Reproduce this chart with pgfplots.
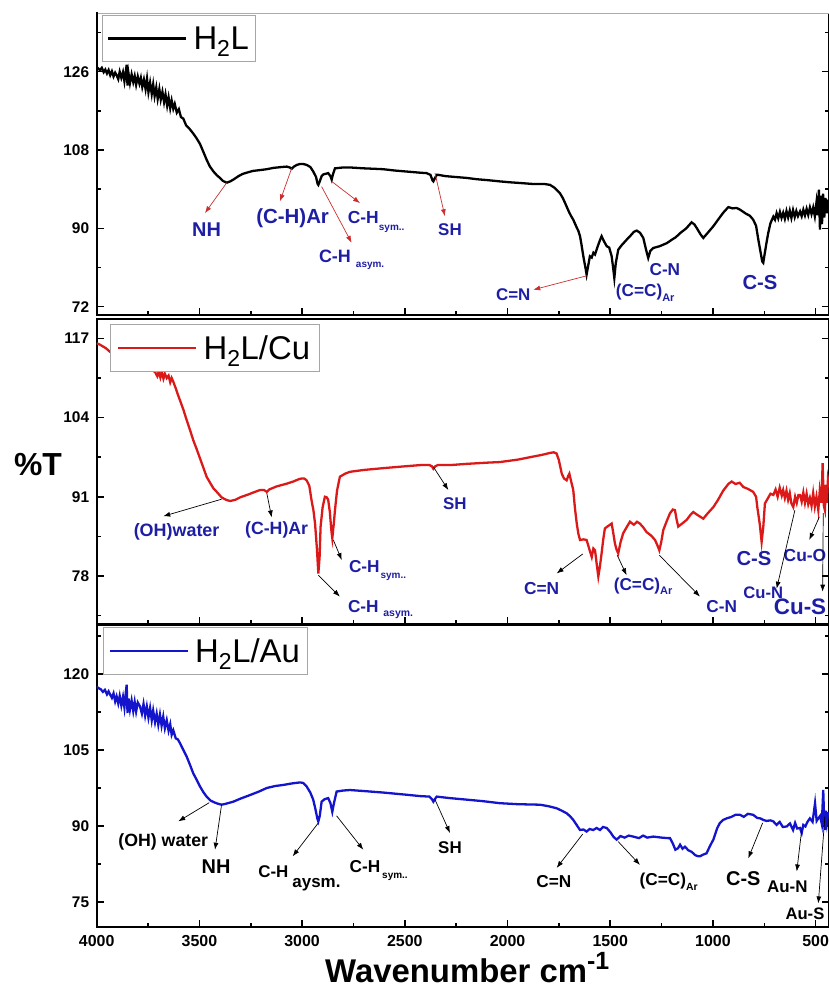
\documentclass[border=0pt]{standalone}
\usepackage{pgfplots}
\pgfplotsset{compat=1.18}
\usetikzlibrary{arrows.meta}
\usepackage{fontspec}
\setmainfont{Liberation Sans}
\definecolor{cred}{RGB}{220,25,25}
\definecolor{cblue}{RGB}{20,20,205}
\definecolor{anblue}{RGB}{30,30,165}
\definecolor{arred}{RGB}{205,45,45}
\newcommand{\fs}[1]{\fontsize{#1}{#1}\selectfont}
\pgfplotsset{
  irpanel/.style={
    scale only axis, width=732.3bp, anchor=south west,
    x dir=reverse, xmin=435, xmax=4000,
    xtick={500,1000,...,4000}, minor x tick num=1,
    xtick pos=left, ytick pos=both,
    tick align=inside,
    major tick length=7bp, minor tick length=4bp,
    every tick/.style={black, line width=1.5pt},
    axis line style={line width=2.2pt},
    /pgf/number format/1000 sep={},
    /pgf/number format/assume math mode=true,
    yticklabel style={font=\fs{15.5}\bfseries, xshift=-4bp},
    xticklabel style={font=\fs{16}\bfseries, yshift=-5bp},
    legend style={draw=gray!70, line width=0.8pt, fill=white, font=\fs{33},
      inner xsep=5bp, inner ysep=9bp},
    legend cell align=left,
    legend image code/.code={\draw[#1] (0bp,0bp) -- (78bp,0bp); \path (82bp,0bp);},
  },
}
\tikzset{
  ann/.style={anblue, inner sep=0pt},
  annk/.style={black, inner sep=0pt},
  rarr/.style={arred, line width=0.7pt, -{Latex[length=7bp,width=5bp]}},
  karr/.style={black, line width=0.7pt, -{Latex[length=7bp,width=5bp]}},
}
\begin{document}
\begin{tikzpicture}
\useasboundingbox (0bp,0bp) rectangle (829bp,988bp);
% ---------------- Panel 1 ----------------
\begin{axis}[irpanel, name=p1, at={(96.7bp,673bp)}, height=302bp,
  ymin=70.1, ymax=139.5, ytick={72,90,108,126}, minor ytick={81,99,117,135},
  xticklabels={},
  legend style={at={(0.007,0.993)}, anchor=north west}]
\addplot[black, line width=2.3pt] coordinates {
(4000,127.1)(3990,126.6)(3984,126.4)(3975,126.9)(3966,125.9)(3958,126.5)(3950,125.6)(3942,126.4)(3934,125.2)(3926,126.1)(3918,124.9)(3910,125.8)(3903,125.2)(3895,124.3)(3888,126.0)(3880,124.6)(3872,125.9)(3865,123.8)(3858,126.2)(3854,127.6)(3850,122.8)(3845,125.6)(3838,123.4)(3830,125.4)(3822,123.6)(3815,125.0)(3808,123.0)(3800,124.9)(3792,123.3)(3785,124.6)(3778,122.5)(3770,124.2)(3762,122.0)(3755,124.4)(3748,121.3)(3740,123.5)(3732,120.9)(3725,123.1)(3718,120.4)(3710,122.4)(3703,119.8)(3695,122.0)(3688,119.6)(3680,121.4)(3672,119.0)(3665,120.8)(3657,118.2)(3650,120.1)(3642,117.6)(3635,119.4)(3627,117.5)(3620,118.6)(3610,116.6)(3600,117.4)(3590,115.6)(3578,115.2)(3565,113.7)(3550,113.0)(3530,111.8)(3515,110.8)(3497,109.4)(3480,107.5)(3465,105.8)(3450,104.3)(3432,103.1)(3415,102.2)(3400,101.6)(3385,100.9)(3367,100.5)(3350,100.8)(3335,101.2)(3310,102.0)(3290,102.5)(3270,102.8)(3240,103.2)(3205,103.4)(3172,103.6)(3140,103.9)(3100,104.1)(3075,104.2)(3060,104.0)(3051,103.7)(3040,104.2)(3025,104.6)(3010,104.8)(2995,104.8)(2978,104.6)(2960,104.1)(2946,103.1)(2932,101.8)(2925,100.3)(2921,100.0)(2914,100.8)(2905,102.0)(2897,102.4)(2873,102.7)(2862,102.0)(2856,101.2)(2850,102.4)(2840,103.8)(2800,104.0)(2767,104.0)(2700,103.8)(2650,103.7)(2605,103.6)(2550,103.3)(2500,103.1)(2426,102.8)(2394,102.7)(2375,102.3)(2365,101.0)(2361,100.8)(2355,101.4)(2345,102.3)(2337,102.3)(2300,102.0)(2250,101.8)(2199,101.6)(2150,101.3)(2100,101.1)(2037,100.8)(1990,100.6)(1930,100.4)(1875,100.2)(1820,100.2)(1793,100.0)(1770,99.3)(1745,98.1)(1730,96.9)(1712,95.0)(1700,93.7)(1690,92.8)(1680,92.0)(1665,90.4)(1655,89.4)(1647,88.2)(1640,86.3)(1633,84.2)(1628,82.8)(1620,80.8)(1615,79.4)(1607,81.5)(1599,83.6)(1590,83.3)(1582,84.4)(1574,84.0)(1560,86.0)(1550,87.3)(1542,88.2)(1530,87.0)(1517,85.9)(1505,85.6)(1493,83.6)(1486,81.0)(1480,78.6)(1473,82.0)(1461,85.1)(1445,86.1)(1420,87.4)(1400,88.4)(1385,89.2)(1371,89.5)(1355,89.0)(1339,87.8)(1325,85.0)(1315,83.2)(1305,84.8)(1290,85.5)(1260,85.9)(1225,86.6)(1200,87.4)(1180,88.0)(1160,88.9)(1130,90.0)(1104,91.4)(1090,90.9)(1079,90.1)(1060,88.6)(1047,87.8)(1025,89.0)(998,90.5)(975,92.0)(950,93.6)(925,94.9)(905,94.6)(885,94.7)(868,94.3)(840,93.4)(820,92.9)(804,92.0)(790,90.6)(779,87.4)(768,84.5)(760,82.4)(755,82.1)(748,84.2)(740,86.5)(731,88.9)(720,91.2)(706,92.7)(698,92.0)(690,93.5)(682,92.3)(674,93.8)(666,92.4)(658,93.6)(650,92.2)(642,94.0)(634,92.5)(626,94.1)(618,92.4)(610,94.2)(602,92.6)(594,94.0)(586,92.8)(576,93.9)(568,92.8)(560,94.3)(552,93.0)(544,94.5)(536,93.1)(528,94.8)(520,93.3)(512,94.8)(504,92.8)(496,96.0)(490,93.0)(484,98.9)(479,89.7)(474,97.5)(469,91.0)(464,98.0)(458,92.5)(452,97.0)(446,93.5)(440,96.3)(435,96.6)
};
\addlegendentry{H\textsubscript{2}L}
\node[ann, font=\fs{20}\bfseries] at (axis cs:3465,89.7) {NH};
\draw[rarr] (axis cs:3367,100.5) -- (axis cs:3473,93.5);
\node[ann, font=\fs{20.5}\bfseries] at (axis cs:3046,92.4) {(C-H)Ar};
\draw[rarr] (axis cs:3051,103.8) -- (axis cs:3108,96.2);
\node[ann, font=\fs{17.5}\bfseries] at (axis cs:2702,92.4) {C-H};
\node[ann, font=\fs{10}\bfseries] at (axis cs:2564,89.9) {sym..};
\draw[rarr] (axis cs:2856,100.8) -- (axis cs:2718,95.8);
\node[ann, font=\fs{18}\bfseries] at (axis cs:2840,83.6) {C-H};
\node[ann, font=\fs{10}\bfseries] at (axis cs:2669,81.3) {asym.};
\draw[rarr] (axis cs:2905,99.6) -- (axis cs:2759,86.7);
\node[ann, font=\fs{17}\bfseries] at (axis cs:2280,89.7) {SH};
\draw[rarr] (axis cs:2353,102.7) -- (axis cs:2305,92.8);
\node[ann, font=\fs{17}\bfseries] at (axis cs:1972,74.8) {C=N};
\draw[rarr] (axis cs:1615,79.1) -- (axis cs:1875,75.9);
\node[ann, font=\fs{17.3}\bfseries] at (axis cs:1330,75.2) {(C=C)\raisebox{-4.5bp}{\fs{11}Ar}};
\node[ann, font=\fs{17.3}\bfseries] at (axis cs:1234,80.5) {C-N};
\node[ann, font=\fs{20.3}\bfseries] at (axis cs:771,77.5) {C-S};
\end{axis}
\draw[white, line width=2.6pt] ([xshift=1.2bp]p1.north west) -- ([xshift=2bp]p1.north east);
\draw[gray!65, line width=0.8pt] ([xshift=1bp]p1.north west) -- ([xshift=2bp]p1.north east);
% ---------------- Panel 2 ----------------
\begin{axis}[irpanel, at={(96.7bp,364bp)}, height=305bp,
  ymin=70.1, ymax=120.2, ytick={78,91,104,117}, minor ytick={71.5,84.5,97.5,110.5},
  xticklabels={},
  legend style={at={(0.018,0.984)}, anchor=north west, inner xsep=7bp}]
\addplot[cred, line width=2.3pt] coordinates {
(4000,116.2)(3985,116.0)(3970,115.7)(3955,115.4)(3935,114.8)(3900,114.3)(3860,113.6)(3820,113.0)(3780,112.4)(3740,111.9)(3716,111.5)(3705,110.8)(3698,111.6)(3690,110.6)(3683,111.5)(3675,110.4)(3668,111.2)(3659,110.5)(3650,110.9)(3642,109.8)(3635,110.5)(3627,109.9)(3615,108.8)(3605,107.8)(3595,106.9)(3578,105.3)(3562,103.6)(3545,101.9)(3530,100.3)(3513,98.8)(3497,97.3)(3481,95.8)(3465,94.3)(3448,93.3)(3432,92.4)(3410,91.6)(3392,90.9)(3370,90.5)(3351,90.3)(3325,90.5)(3302,90.9)(3260,91.4)(3230,91.8)(3205,92.1)(3185,92.1)(3172,91.8)(3160,92.2)(3124,92.7)(3080,93.1)(3043,93.5)(3015,93.9)(3002,94.0)(2990,94.0)(2978,93.7)(2965,92.8)(2953,90.2)(2945,88.8)(2937,86.6)(2928,82.5)(2921,78.4)(2915,81.0)(2910,86.1)(2900,89.3)(2889,91.0)(2880,90.9)(2873,90.5)(2865,88.5)(2858,85.6)(2853,84.2)(2846,86.5)(2840,88.8)(2830,92.0)(2816,94.3)(2790,94.8)(2767,95.1)(2700,95.4)(2605,95.7)(2500,96.0)(2426,96.2)(2380,96.2)(2368,96.0)(2361,95.6)(2352,96.0)(2340,96.2)(2280,96.2)(2200,96.4)(2100,96.6)(2037,96.7)(1950,97.1)(1875,97.6)(1830,97.9)(1793,98.2)(1775,98.3)(1761,98.1)(1750,97.0)(1736,94.8)(1725,94.0)(1712,93.7)(1705,94.4)(1699,94.8)(1690,93.5)(1680,92.1)(1672,89.2)(1663,86.6)(1655,84.9)(1647,83.9)(1630,84.0)(1615,83.9)(1600,82.2)(1590,81.1)(1582,82.5)(1574,82.2)(1566,80.0)(1558,77.9)(1550,79.6)(1542,81.7)(1534,84.0)(1526,85.8)(1510,86.2)(1493,86.6)(1485,85.0)(1477,83.3)(1469,82.3)(1461,81.7)(1450,83.5)(1437,85.0)(1420,86.0)(1404,86.9)(1385,86.4)(1370,86.9)(1356,86.6)(1340,86.0)(1323,85.2)(1300,84.6)(1282,83.9)(1270,83.0)(1261,82.2)(1252,83.5)(1242,85.5)(1225,87.0)(1209,88.3)(1195,88.9)(1185,88.8)(1177,87.3)(1169,86.1)(1150,86.6)(1128,87.2)(1110,88.0)(1096,88.5)(1075,88.0)(1047,87.4)(1025,88.3)(998,89.3)(975,90.5)(950,92.0)(925,93.1)(909,93.5)(890,93.1)(870,93.3)(852,92.6)(830,92.3)(804,91.8)(790,91.0)(784,89.3)(772,86.5)(763,83.6)(755,86.0)(747,89.9)(735,90.6)(720,91.5)(706,91.3)(695,92.2)(685,91.0)(675,92.5)(665,91.2)(658,92.1)(650,90.8)(642,92.0)(634,90.5)(626,91.6)(618,89.9)(609,89.3)(600,91.0)(592,90.0)(584,91.3)(576,91.3)(568,90.2)(560,91.7)(552,90.0)(544,91.5)(536,89.8)(528,90.8)(520,89.5)(512,91.6)(504,89.4)(496,91.0)(487,88.8)(480,92.0)(472,90.0)(466,96.5)(460,89.5)(455,88.8)(450,93.0)(445,90.0)(440,94.0)(435,93.2)
};
\addlegendentry{H\textsubscript{2}L/Cu}
\node[ann, font=\fs{18}\bfseries] at (axis cs:3611,85.2) {(OH)water};
\draw[karr] (axis cs:3392,90.6) -- (axis cs:3676,87.8);
\node[ann, font=\fs{17.8}\bfseries] at (axis cs:3124,85.6) {(C-H)Ar};
\draw[karr] (axis cs:3172,91.6) -- (axis cs:3148,87.6);
\node[ann, font=\fs{17.3}\bfseries] at (axis cs:2697,79.5) {C-H};
\node[ann, font=\fs{10}\bfseries] at (axis cs:2556,77.9) {sym..};
\draw[karr] (axis cs:2848,83.9) -- (axis cs:2807,80.6);
\node[ann, font=\fs{17.3}\bfseries] at (axis cs:2702,73.0) {C-H};
\node[ann, font=\fs{10.5}\bfseries] at (axis cs:2532,71.6) {asym.};
\draw[karr] (axis cs:2921,78.1) -- (axis cs:2816,74.6);
\node[ann, font=\fs{17}\bfseries] at (axis cs:2256,89.9) {SH};
\draw[karr] (axis cs:2361,95.9) -- (axis cs:2288,92.1);
\node[ann, font=\fs{17.4}\bfseries] at (axis cs:1834,75.9) {C=N};
\draw[karr] (axis cs:1634,81.6) -- (axis cs:1761,78.4);
\node[ann, font=\fs{17.3}\bfseries] at (axis cs:1340,76.3) {(C=C)\raisebox{-4.5bp}{\fs{11}Ar}};
\draw[karr] (axis cs:1466,81.4) -- (axis cs:1420,78.1);
\node[ann, font=\fs{17.3}\bfseries] at (axis cs:957,73.0) {C-N};
\draw[karr] (axis cs:1261,81.4) -- (axis cs:1063,74.6);
\node[ann, font=\fs{20.3}\bfseries] at (axis cs:800,80.9) {C-S};
\node[ann, font=\fs{17.5}\bfseries] at (axis cs:552,81.3) {Cu-O};
\draw[karr] (axis cs:482,87.7) -- (axis cs:531,83.9);
\node[ann, font=\fs{16.7}\bfseries] at (axis cs:755,75.3) {Cu-N};
\draw[karr] (axis cs:601,88.8) -- (axis cs:690,75.9);
\node[ann, font=\fs{22.5}\bfseries] at (axis cs:576,73.0) {Cu-S};
\draw[karr] (axis cs:463,88.3) -- (axis cs:466,75.4);
\end{axis}
% ---------------- Panel 3 ----------------
\begin{axis}[irpanel, at={(96.7bp,61.3bp)}, height=301.7bp,
  ymin=70.1, ymax=129.7, ytick={75,90,105,120}, minor ytick={82.5,97.5,112.5,127.5},
  legend style={at={(0.008,0.994)}, anchor=north west, inner xsep=6bp}]
\addplot[cblue, line width=2.3pt] coordinates {
(4000,117.5)(3990,117.2)(3980,117.0)(3970,116.5)(3960,116.9)(3950,116.0)(3942,116.6)(3935,116.0)(3926,115.3)(3918,116.2)(3910,114.6)(3903,115.6)(3895,114.2)(3888,115.7)(3880,113.8)(3872,115.5)(3865,113.4)(3858,116.5)(3854,117.9)(3850,112.3)(3845,115.2)(3838,113.0)(3830,114.8)(3822,112.7)(3815,114.5)(3808,112.6)(3800,114.4)(3789,113.6)(3780,112.2)(3772,114.1)(3764,111.8)(3756,113.6)(3748,111.4)(3740,113.3)(3732,110.9)(3725,112.8)(3716,110.5)(3708,112.2)(3700,110.0)(3692,112.0)(3684,109.8)(3676,111.6)(3668,109.3)(3659,110.9)(3650,108.8)(3642,110.1)(3635,108.0)(3627,108.9)(3615,107.3)(3605,107.1)(3595,106.4)(3578,105.0)(3562,103.7)(3545,102.0)(3530,100.4)(3513,99.1)(3497,97.8)(3481,96.7)(3465,95.8)(3445,95.0)(3424,94.6)(3410,94.4)(3392,94.2)(3370,94.4)(3335,94.8)(3300,95.4)(3254,96.1)(3210,96.8)(3172,97.5)(3130,97.9)(3092,98.1)(3050,98.4)(3010,98.6)(2995,98.5)(2978,97.8)(2960,96.6)(2946,95.2)(2935,93.3)(2926,91.5)(2921,90.9)(2914,92.0)(2905,94.8)(2890,95.3)(2873,95.5)(2862,94.5)(2853,92.8)(2845,94.5)(2832,96.8)(2800,97.0)(2767,97.1)(2700,96.9)(2605,96.6)(2500,96.2)(2426,95.9)(2380,95.8)(2368,95.3)(2361,94.8)(2352,95.4)(2345,95.8)(2280,95.5)(2199,95.2)(2120,94.9)(2037,94.5)(1950,94.3)(1842,94.2)(1800,93.9)(1761,93.5)(1735,93.0)(1712,92.5)(1695,91.9)(1680,91.2)(1665,90.3)(1647,89.2)(1630,89.3)(1615,88.9)(1600,89.4)(1583,89.2)(1566,89.6)(1550,89.2)(1535,89.8)(1517,89.6)(1500,88.8)(1485,87.9)(1469,87.3)(1450,88.0)(1430,87.7)(1410,88.1)(1388,87.9)(1360,87.6)(1340,88.1)(1320,87.7)(1290,87.9)(1250,87.7)(1220,87.6)(1209,87.6)(1195,86.5)(1183,85.3)(1170,85.6)(1160,86.3)(1148,85.5)(1136,85.9)(1120,85.2)(1104,84.9)(1085,84.2)(1070,84.0)(1063,84.0)(1050,84.3)(1031,84.6)(1015,86.0)(998,87.3)(980,89.5)(966,90.6)(950,91.2)(933,91.5)(910,91.8)(890,92.2)(868,92.2)(850,91.8)(830,92.4)(804,92.2)(785,91.6)(770,91.5)(755,91.2)(740,91.0)(720,91.1)(706,90.9)(690,90.2)(675,90.8)(660,89.8)(641,89.9)(625,90.5)(610,89.2)(600,90.6)(590,89.5)(576,89.6)(568,88.6)(560,90.2)(550,89.9)(540,90.8)(528,91.5)(515,90.8)(503,94.5)(495,91.0)(487,91.5)(478,92.0)(470,90.4)(463,97.1)(458,90.5)(455,89.2)(450,93.0)(445,90.8)(440,92.5)(435,92.5)
};
\addlegendentry{H\textsubscript{2}L/Au}
\node[annk, font=\fs{17.8}\bfseries] at (axis cs:3676,86.9) {(OH) water};
\draw[karr] (axis cs:3452,94.6) -- (axis cs:3603,90.9);
\node[annk, font=\fs{20}\bfseries] at (axis cs:3419,82.0) {NH};
\draw[karr] (axis cs:3392,94.2) -- (axis cs:3424,85.3);
\node[annk, font=\fs{17}\bfseries] at (axis cs:3140,81.0) {C-H};
\node[annk, font=\fs{17}\bfseries] at (axis cs:2930,78.4) {aysm.};
\draw[karr] (axis cs:2921,90.6) -- (axis cs:3046,84.0);
\node[annk, font=\fs{17.3}\bfseries] at (axis cs:2694,82.0) {C-H};
\node[annk, font=\fs{10}\bfseries] at (axis cs:2548,80.0) {sym..};
\draw[karr] (axis cs:2832,92.0) -- (axis cs:2702,85.3);
\node[annk, font=\fs{17}\bfseries] at (axis cs:2280,85.8) {SH};
\draw[karr] (axis cs:2353,95.2) -- (axis cs:2280,88.6);
\node[annk, font=\fs{17.3}\bfseries] at (axis cs:1774,79.0) {C=N};
\draw[karr] (axis cs:1634,88.4) -- (axis cs:1761,81.7);
\node[annk, font=\fs{17.3}\bfseries] at (axis cs:1215,79.0) {(C=C)\raisebox{-4.5bp}{\fs{10.5}Ar}};
\draw[karr] (axis cs:1461,86.9) -- (axis cs:1355,82.3);
\node[annk, font=\fs{20}\bfseries] at (axis cs:852,79.5) {C-S};
\draw[karr] (axis cs:758,90.6) -- (axis cs:828,83.6);
\node[annk, font=\fs{17}\bfseries] at (axis cs:638,77.9) {Au-N};
\draw[karr] (axis cs:568,89.2) -- (axis cs:592,81.0);
\node[annk, font=\fs{16.7}\bfseries] at (axis cs:552,72.6) {Au-S};
\draw[karr] (axis cs:455,91.9) -- (axis cs:487,74.7);
\end{axis}
% ---------------- axis titles ----------------
\node[font=\fs{32}\bfseries, inner sep=0pt] at (38bp,523bp) {\%T};
\node[font=\fs{33}\bfseries, inner sep=0pt, anchor=base west] at (325bp,6bp) {Wavenumber cm\raisebox{12.3bp}{\fs{25}-1}};
\end{tikzpicture}
\end{document}
